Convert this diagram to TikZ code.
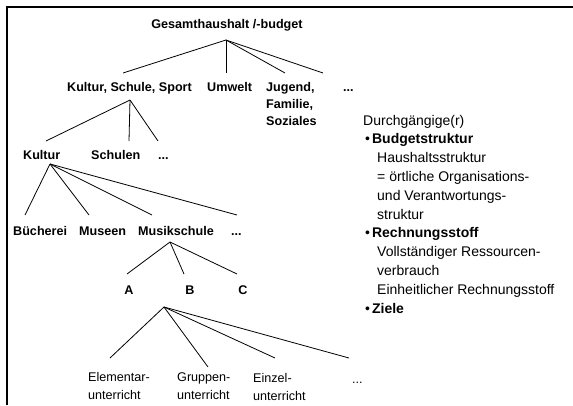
\documentclass[tikz,border=0pt]{standalone}
\usepackage{fontspec}
\setmainfont{Liberation Sans}
\begin{document}
\begin{tikzpicture}[x=1pt,y=-1pt,
  lab/.style={inner sep=0pt, anchor=base west, font=\fontsize{12.6}{17}\selectfont\bfseries},
  labc/.style={lab, anchor=base},
  reg/.style={inner sep=0pt, anchor=base west, font=\fontsize{12.6}{18}\selectfont},
  side/.style={inner sep=0pt, anchor=base west, font=\fontsize{14}{18.8}\selectfont},
  edge/.style={line width=0.8pt},
  frame/.style={line width=2.5pt}]
\useasboundingbox (0,0) rectangle (573,405);
% frame (top and left edges only)
\draw[frame] (7,405) -- (7,7) -- (573,7);

% level 1
\node[labc] (root) at (227,28) {Gesamthaushalt /-budget};
% level 2
\node[lab] (kss) at (67,91) {Kultur, Schule, Sport};
\node[lab] (umw) at (207,91) {Umwelt};
\node[lab] (jfs) at (266,91) {\begin{tabular}[t]{@{}l@{}}Jugend,\\Familie,\\Soziales\end{tabular}};
\node[lab] (dotsA) at (343,91) {...};
% level 3
\node[lab] (kul) at (23,159) {Kultur};
\node[lab] (sch) at (91,159) {Schulen};
\node[lab] (dotsB) at (158,159) {...};
% level 4
\node[lab] (bue) at (13,235) {Bücherei};
\node[lab] (mus) at (79,235) {Museen};
\node[lab] (msk) at (138,235) {Musikschule};
\node[lab] (dotsC) at (231,235) {...};
% level 5
\node[labc] (a) at (129,294) {A};
\node[labc] (b) at (190,294) {B};
\node[labc] (c) at (243,294) {C};
% level 6
\node[reg] (ele) at (88,381) {\begin{tabular}[t]{@{}l@{}}Elementar-\\unterricht\end{tabular}};
\node[reg] (gru) at (177,381) {\begin{tabular}[t]{@{}l@{}}Gruppen-\\unterricht\end{tabular}};
\node[reg] (ein) at (253,382) {\begin{tabular}[t]{@{}l@{}}Einzel-\\unterricht\end{tabular}};
\node[reg] (dotsD) at (352,383) {...};

% side text
\node[side] (side) at (363,125) {\begin{tabular}[t]{@{}l@{}}
Durchgängige(r)\\
\hspace{2pt}•\hspace{2pt}\textbf{Budgetstruktur}\\
\hspace{14pt}Haushaltsstruktur\\
\hspace{14pt}= örtliche Organisations-\\
\hspace{14pt}und Verantwortungs-\\
\hspace{14pt}struktur\\
\hspace{2pt}•\hspace{2pt}\textbf{Rechnungsstoff}\\
\hspace{14pt}Vollständiger Ressourcen-\\
\hspace{14pt}verbrauch\\
\hspace{14pt}Einheitlicher Rechnungsstoff\\
\hspace{2pt}•\hspace{2pt}\textbf{Ziele}
\end{tabular}};

% connector points
\coordinate (root-f) at (226,40);
\coordinate (kss-t) at (123,73);
\coordinate (umw-t) at (226,73);
\coordinate (jfs-t) at (285,73);
\coordinate (dotsA-t) at (323,73);

\coordinate (kss-f) at (130,100);
\coordinate (kul-t) at (46,141);
\coordinate (sch-t) at (129,141);
\coordinate (dotsB-t) at (158,141);

\coordinate (kul-f) at (50,164);
\coordinate (bue-t) at (25,215);
\coordinate (mus-t) at (89,215);
\coordinate (msk-t) at (152,215);
\coordinate (dotsC-t) at (237,215);

\coordinate (msk-f) at (170,242);
\coordinate (a-t) at (127,274);
\coordinate (b-t) at (184,274);
\coordinate (c-t) at (237,274);

\coordinate (b-f) at (164,307);
\coordinate (ele-t) at (110,358);
\coordinate (gru-t) at (208,367);
\coordinate (ein-t) at (275,358);
\coordinate (dotsD-t) at (349,358);

\foreach \p/\c in {root/kss,root/umw,root/jfs,root/dotsA,
                   kss/kul,kss/sch,kss/dotsB,
                   kul/bue,kul/mus,kul/msk,kul/dotsC,
                   msk/a,msk/b,msk/c,
                   b/ele,b/gru,b/ein,b/dotsD}
  \draw[edge] (\p-f) -- (\c-t);
\end{tikzpicture}
\end{document}
